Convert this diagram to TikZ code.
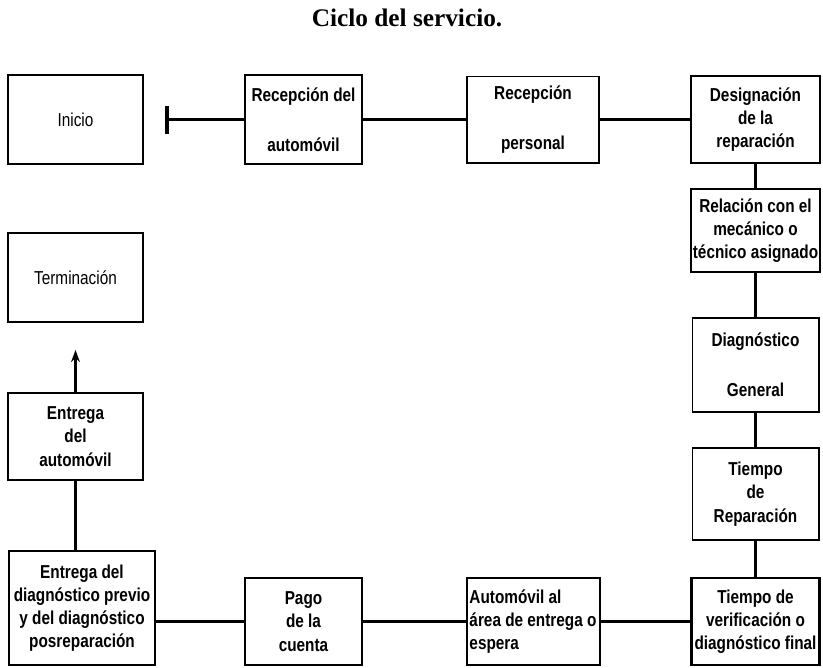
\documentclass[tikz,border=0pt]{standalone}
\usepackage{fontspec}
\setmainfont{Liberation Serif}
\newfontfamily\narrowfont[FakeStretch=0.82]{Liberation Sans}
\usetikzlibrary{arrows.meta,positioning}
\tikzset{
  stage/.style={draw, line width=1.4pt, align=center, inner sep=1.5pt,
    minimum width=3.3cm, minimum height=2.2cm,
    font=\narrowfont\bfseries\fontsize{13.3}{16.5}\selectfont},
  plain/.style={font=\narrowfont\fontsize{13.3}{16.5}\selectfont},
  flow/.style={line width=1.5pt},
  title/.style={font=\bfseries\fontsize{18}{20}\selectfont},
}
\begin{document}
\begin{tikzpicture}[x=0.025cm, y=-0.025cm]
\useasboundingbox (0,0) rectangle (823,667);

\node[title] (heading) at (407,18) {Ciclo del servicio.};

% Top row
\node[stage, plain, minimum width=3.375cm, minimum height=2.225cm] (inicio) at (75.5,119.5) {Inicio};
\node[stage, minimum width=2.925cm, minimum height=2.225cm] (recauto) at (303.5,119.5) {Recepción del\\[0.66cm]automóvil};
\node[stage, minimum width=3.3cm, minimum height=2.15cm] (recpers) at (533,119.5) {Recepción\\[0.66cm]personal};
\node[stage, minimum width=3.225cm, minimum height=2.175cm] (design) at (755.5,119.5) {Designación\\de la\\reparación};

% Right column
\node[stage, minimum width=3.2cm, minimum height=2.075cm] (relacion) at (755.5,230.5) {Relación con el\\mecánico o\\técnico asignado};
\node[stage, minimum width=3.15cm, minimum height=2.35cm] (diag) at (755.5,365) {Diagnóstico\\[0.66cm]General};
\node[stage, minimum width=3.15cm, minimum height=2.3cm] (trep) at (755.5,494) {Tiempo\\de\\Reparación};
\node[stage, line width=2pt, minimum width=3.2cm, minimum height=2.175cm] (tverif) at (755.5,621.5) {Tiempo de\\verificación o\\diagnóstico final};

% Bottom row
\node[stage, align=flush left, text width=3.2cm, minimum width=3.325cm, minimum height=2.175cm] (autoarea) at (533.5,621.5) {Automóvil al\\área de entrega o\\espera};
\node[stage, minimum width=2.925cm, minimum height=2.175cm] (pago) at (303.5,621.5) {Pago\\de la\\cuenta};
\node[stage, minimum width=3.65cm, minimum height=2.85cm] (entdiag) at (82,608) {Entrega del\\diagnóstico previo\\y del diagnóstico\\posreparación};

% Left column
\node[stage, minimum width=3.375cm, minimum height=2.175cm] (entauto) at (75.5,436.5) {Entrega\\del\\automóvil};
\node[stage, plain, minimum width=3.375cm, minimum height=2.225cm] (termina) at (75.5,277.5) {Terminación};

\coordinate (bar) at (165,119.5);
\coordinate (arrowtip) at (75.5,350);

\draw[flow, -{Bar[width=7mm, line width=2.6pt]}] (recauto.west) -- (bar);
\draw[flow] (recauto) -- (recpers);
\draw[flow] (recpers) -- (design);
\draw[flow] (design) -- (relacion);
\draw[flow] (relacion) -- (diag);
\draw[flow] (diag) -- (trep);
\draw[flow] (trep) -- (tverif);
\draw[flow] (tverif) -- (autoarea);
\draw[flow] (autoarea) -- (pago);
\draw[flow] (pago.west) -- (entdiag.east |- pago.west);
\draw[flow] (entauto.south) -- (entauto.south |- entdiag.north);
\draw[flow, -{Stealth[length=3mm, width=2.2mm]}] (entauto.north) -- (arrowtip);

\end{tikzpicture}
\end{document}
